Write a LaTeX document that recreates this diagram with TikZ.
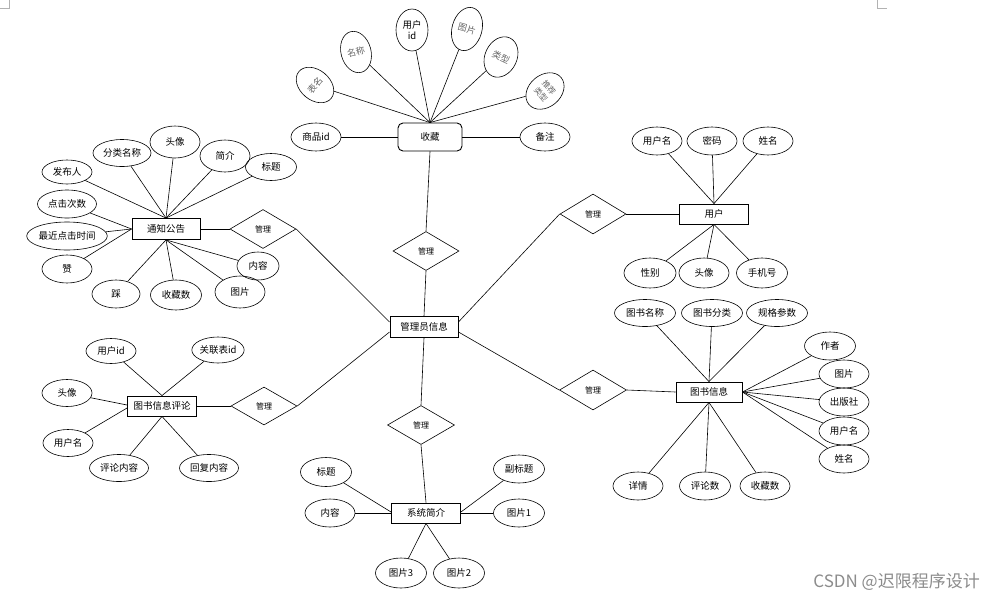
\documentclass[tikz,border=0pt]{standalone}
\usepackage{fontspec}
\setmainfont{Noto Sans CJK SC}
\usetikzlibrary{shapes.geometric}
\tikzset{
  fs/.style={font=\fontsize{9.5}{11}\selectfont},
  attr/.style={ellipse, draw, line width=0.6pt, inner sep=0pt, minimum width=50pt, minimum height=28pt, fs},
  rattr/.style={ellipse, draw, line width=0.6pt, inner sep=0pt, minimum width=30pt, minimum height=42pt, text=black!60, align=center, font=\fontsize{9}{10}\selectfont},
  ent/.style={rectangle, draw, line width=0.9pt, minimum width=68pt, minimum height=21pt, inner sep=1pt, fs},
  rel/.style={diamond, draw, line width=0.6pt, minimum width=66pt, minimum height=39pt, inner sep=0pt, font=\fontsize{8}{9}\selectfont},
  conn/.style={draw, line width=0.6pt}
}
\begin{document}
\begin{tikzpicture}[x=1pt,y=-1pt]
\useasboundingbox[fill=white] (0,0) rectangle (985,600);
% corner marks
\draw[black!30, line width=0.5pt] (0,8) -- (9,8) -- (9,0);
\draw[black!30, line width=0.5pt] (877,0) -- (877,8) -- (887,8);

% central entity
\node[ent] (gly) at (424,327) {管理员信息};

% ===== 收藏 =====
\node[ent, rounded corners=5pt, minimum width=64pt, minimum height=28pt] (sc) at (430,137) {收藏};
\node[rel] (d1) at (426,251) {管理};
\node[attr] (spid) at (316,137) {商品id};
\node[attr] (bz) at (545,137) {备注};
\node[rattr, rotate=50] (bm) at (315,85) {表名};
\node[rattr, rotate=15] (mc) at (356,52) {名称};
\node[rattr, minimum width=32pt, text=black, font=\fontsize{9.5}{11}\selectfont] (yhid) at (412,30) {用户\\id};
\node[rattr, rotate=-15, minimum height=44pt] (tp0) at (467,29) {图片};
\node[rattr, rotate=-25, minimum width=32pt] (lx) at (501,57) {类型};
\node[rattr, rotate=-50, minimum width=32pt, font=\fontsize{8}{10.5}\selectfont] (tjlx) at (545,91) {推荐\\类型};
\foreach \n in {bm,mc,yhid,tp0,lx,tjlx} \draw[conn] (\n) -- (sc.north);
\draw[conn] (spid) -- (sc.west);
\draw[conn] (sc.east) -- (bz);
\draw[conn] (sc.south) -- (d1.north);
\draw[conn] (d1.south) -- (gly.north);

% ===== 通知公告 =====
\node[ent] (tz) at (166,229) {通知公告};
\node[rel] (d2) at (263,229) {管理};
\node[attr, minimum height=24pt] (fbr) at (67,172) {发布人};
\node[attr, minimum width=58pt, minimum height=27pt] (flmc) at (122,153) {分类名称};
\node[attr, minimum height=32pt] (tx1) at (175,142) {头像};
\node[attr, minimum height=32pt] (jj) at (225,156) {简介};
\node[attr, minimum width=51pt, minimum height=27pt] (bt1) at (271,167) {标题};
\node[attr, minimum width=59pt] (djcs) at (67,204) {点击次数};
\node[attr, minimum width=77pt] (zjdj) at (67,236) {最近点击时间};
\node[attr] (zan) at (67,269) {赞};
\node[attr, minimum width=48pt] (cai) at (116,294) {踩};
\node[attr, minimum width=51pt, minimum height=30pt] (scs1) at (176,295) {收藏数};
\node[attr, minimum height=32pt] (tp1) at (240,292) {图片};
\node[attr, minimum width=42pt] (nr1) at (258,266) {内容};
\foreach \n in {fbr,flmc,tx1,jj,bt1} \draw[conn] (\n) -- (tz.north);
\foreach \n in {djcs,zjdj,zan} \draw[conn] (\n) -- (tz.west);
\foreach \n in {cai,scs1,tp1,nr1} \draw[conn] (\n) -- (tz.south);
\draw[conn] (tz.east) -- (d2.west);
\draw[conn] (d2.east) -- ([yshift=5pt]gly.west);

% ===== 用户 =====
\node[ent, minimum width=69pt, minimum height=20pt] (yh) at (714,214) {用户};
\node[rel, minimum height=40pt] (d3) at (593,214) {管理};
\node[attr] (yhm1) at (657,141) {用户名};
\node[attr] (mm) at (712,141) {密码};
\node[attr] (xm1) at (768,141) {姓名};
\node[attr, minimum width=52pt, minimum height=30pt] (xb) at (650,273) {性别};
\node[attr, minimum height=30pt] (tx2) at (704,273) {头像};
\node[attr, minimum width=51pt, minimum height=30pt] (sjh) at (762,273) {手机号};
\foreach \n in {yhm1,mm,xm1} \draw[conn] (\n) -- (yh.north);
\foreach \n in {xb,tx2,sjh} \draw[conn] (\n) -- (yh.south);
\draw[conn] (d3.east) -- (yh.west);
\draw[conn] (d3.west) -- ([yshift=5pt]gly.east);

% ===== 图书信息 =====
\node[ent, minimum width=66pt, minimum height=20pt] (ts) at (709,392) {图书信息};
\node[rel, minimum width=67pt, minimum height=40pt] (d4) at (593,390) {管理};
\node[attr, minimum width=61pt, minimum height=27pt] (tsmc) at (645,313) {图书名称};
\node[attr, minimum width=61pt, minimum height=27pt] (tsfl) at (712,313) {图书分类};
\node[attr, minimum width=61pt, minimum height=27pt] (ggcs) at (777,313) {规格参数};
\node[attr, minimum width=51pt] (zz) at (830,346) {作者};
\node[attr] (tp2) at (844,374) {图片};
\node[attr] (cbs) at (844,402) {出版社};
\node[attr] (yhm2) at (844,431) {用户名};
\node[attr] (xm2) at (844,459) {姓名};
\node[attr] (xq) at (638,486) {详情};
\node[attr, minimum width=51pt] (pls) at (705,486) {评论数};
\node[attr] (scs2) at (765,486) {收藏数};
\foreach \n in {tsmc,tsfl,ggcs} \draw[conn] (\n) -- (ts.north);
\foreach \n in {zz,tp2,cbs,yhm2,xm2} \draw[conn] (\n) -- (ts.east);
\foreach \n in {xq,pls,scs2} \draw[conn] (\n) -- (ts.south);
\draw[conn] (d4.east) -- (ts.west);
\draw[conn] (d4.west) -- ([yshift=-5pt]gly.east);

% ===== 图书信息评论 =====
\node[ent, minimum width=69pt, minimum height=20pt] (pl) at (162,406) {图书信息评论};
\node[rel, minimum height=38pt] (d5) at (264,406) {管理};
\node[attr, minimum height=25pt] (yhid2) at (111,351) {用户id};
\node[attr, minimum height=26pt] (glbid) at (218,350) {关联表id};
\node[attr, minimum height=27pt] (tx3) at (67,393) {头像};
\node[attr, minimum height=27pt] (yhm3) at (68,443) {用户名};
\node[attr, minimum width=59pt, minimum height=27pt] (plnr) at (119,468) {评论内容};
\node[attr, minimum width=59pt, minimum height=27pt] (hfnr) at (209,468) {回复内容};
\foreach \n in {yhid2,glbid} \draw[conn] (\n) -- (pl.north);
\draw[conn] (tx3) -- ([yshift=1pt]pl.west);
\draw[conn] (yhm3) -- ([yshift=-2pt]pl.west);
\foreach \n in {plnr,hfnr} \draw[conn] (\n) -- (pl.south);
\draw[conn] (pl.east) -- (d5.west);
\draw[conn] (d5.east) -- ([yshift=-5pt]gly.west);

% ===== 系统简介 =====
\node[ent, minimum width=69pt, minimum height=20pt] (xt) at (426,513) {系统简介};
\node[rel, minimum width=67pt] (d6) at (421,425) {管理};
\node[attr, minimum width=51pt, minimum height=29pt] (bt2) at (326,472) {标题};
\node[attr] (nr2) at (330,513) {内容};
\node[attr, minimum width=51pt] (fbt) at (519,469) {副标题};
\node[attr, minimum width=51pt] (tpa) at (519,513) {图片1};
\node[attr, minimum width=51pt, minimum height=30pt] (tpc) at (401,573) {图片3};
\node[attr, minimum width=51pt, minimum height=30pt] (tpb) at (459,573) {图片2};
\draw[conn] (bt2) -- ([yshift=1pt]xt.west);
\draw[conn, line width=0.9pt] (nr2) -- (xt.west);
\draw[conn] (fbt) -- ([yshift=1pt]xt.east);
\draw[conn, line width=0.9pt] (tpa) -- (xt.east);
\foreach \n in {tpc,tpb} \draw[conn] (\n) -- (xt.south);
\draw[conn] (gly.south) -- (d6.north);
\draw[conn] (d6.south) -- (xt.north);

% watermark
\node[text=black!45, font=\fontsize{17}{19}\selectfont, inner sep=0pt, anchor=east] (wm) at (980,582) {CSDN @迟限程序设计};
\end{tikzpicture}
\end{document}
